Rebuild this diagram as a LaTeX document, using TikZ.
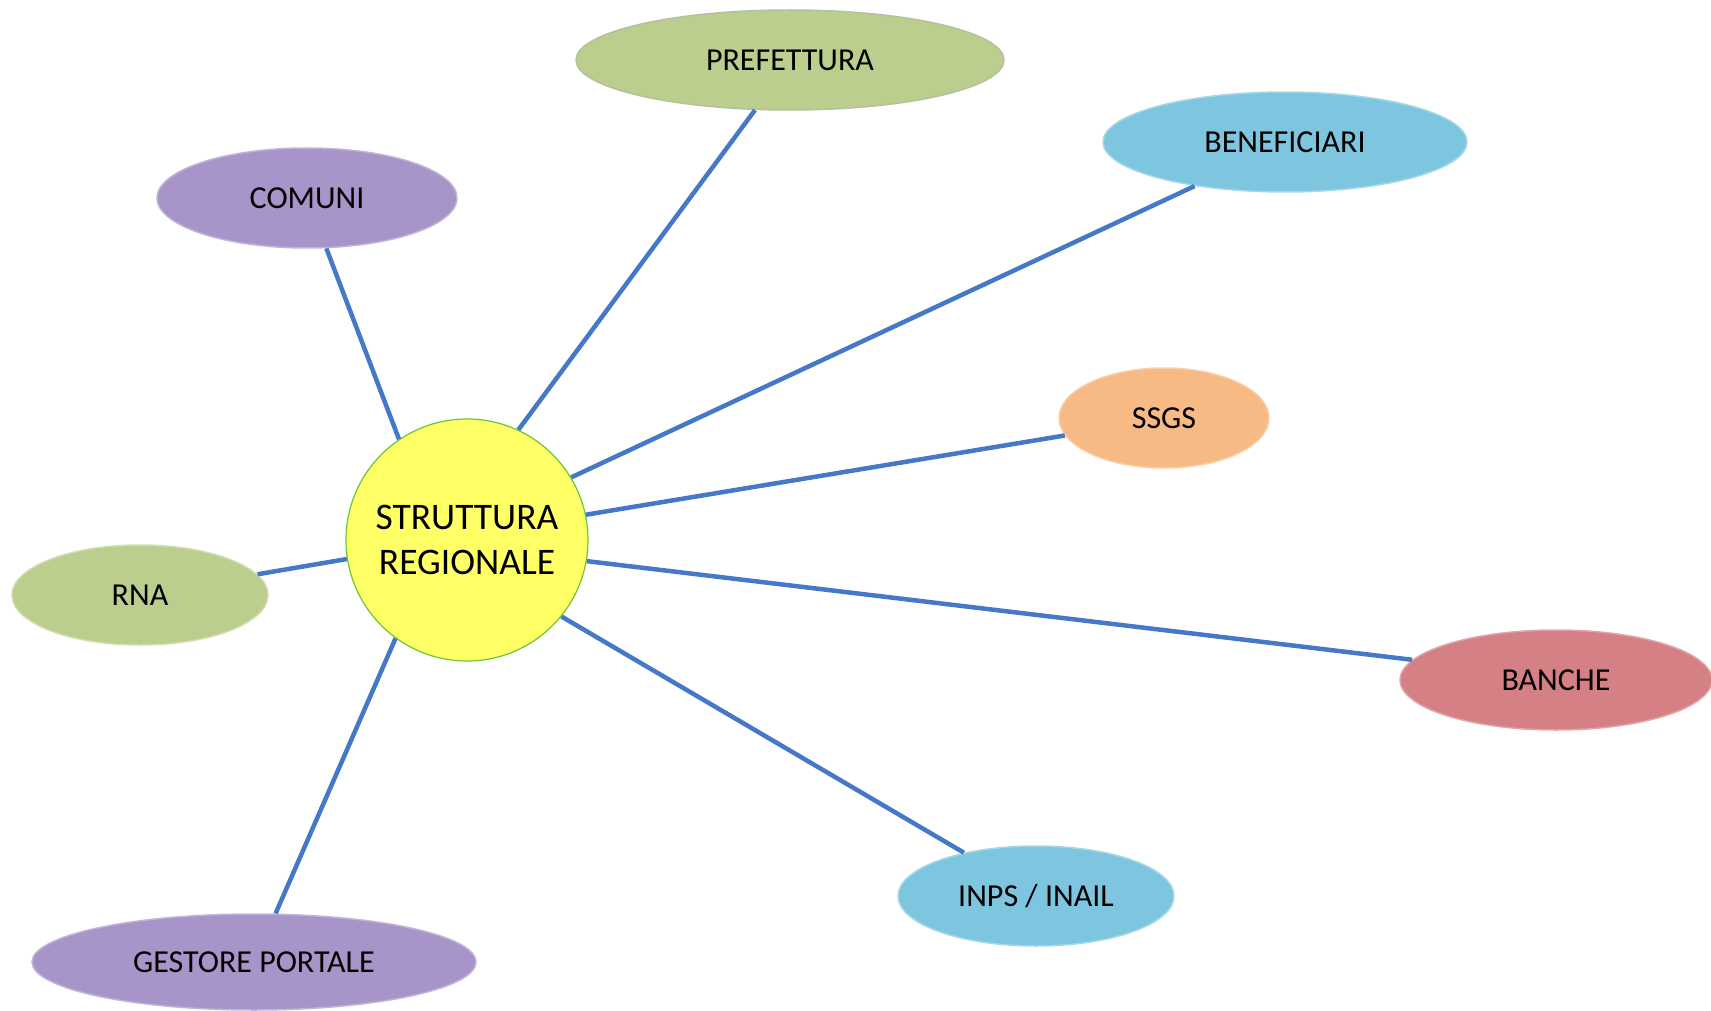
\documentclass[tikz,border=0pt]{standalone}
\usepackage{fontspec}
\setmainfont{Carlito}
\usetikzlibrary{shapes.geometric}
\definecolor{linkblue}{RGB}{70,120,200}
\definecolor{leafgreen}{RGB}{187,206,142}
\definecolor{leafpurple}{RGB}{167,148,200}
\definecolor{leafblue}{RGB}{126,198,224}
\definecolor{leaforange}{RGB}{247,186,132}
\definecolor{leafred}{RGB}{212,128,133}
\definecolor{hubyellow}{RGB}{255,255,102}
\begin{document}
\begin{tikzpicture}[x = 1pt, y = -1pt,
    leaf/.style = {ellipse, inner sep = 0pt, minimum height = 100pt,
      font = \fontsize{32}{36}\selectfont, line width = 1.5pt},
    hub/.style = {circle, minimum size = 242pt, inner sep = 0pt, fill = hubyellow,
      draw = green!45!olive!80, line width = 1.2pt, align = center,
      font = \fontsize{37.5}{45}\selectfont},
    link/.style = {linkblue, line width = 4.5pt}]
  \useasboundingbox (0, 0) rectangle (1711, 1011);
  \node[hub] (reg) at (467, 540) {STRUTTURA\\REGIONALE};
  \node[leaf, fill = leafgreen, draw = leafgreen!80!black!70!white, minimum width = 428pt] (pref) at (790, 60) {PREFETTURA};
  \node[leaf, fill = leafblue, draw = leafblue!70!white, minimum width = 364pt] (benef) at (1285, 142) {BENEFICIARI};
  \node[leaf, fill = leafpurple, draw = leafpurple!70!white, minimum width = 300pt] (comuni) at (307, 198) {COMUNI};
  \node[leaf, fill = leaforange, draw = leaforange!70!white, minimum width = 210pt] (ssgs) at (1164, 418) {SSGS};
  \node[leaf, fill = leafgreen, draw = leafgreen!70!white, minimum width = 256pt] (rna) at (140, 595) {RNA};
  \node[leaf, fill = leafred, draw = leafred!70!white, minimum width = 312pt] (banche) at (1556, 680) {BANCHE};
  \node[leaf, fill = leafblue, draw = leafblue!70!white, minimum width = 276pt] (inps) at (1036, 896) {INPS / INAIL};
  \node[leaf, fill = leafpurple, draw = leafpurple!70!white, minimum width = 444pt, minimum height = 96pt] (gestore) at (254, 962) {GESTORE PORTALE};
  % connectors from the hub
  \foreach \target/\from/\to in {comuni/124/-69, pref/65/-125, benef/31/-154, ssgs/12/190,
      rna/-171/10, banche/-10/172, inps/-39/149, gestore/-126/66}
    \draw[link] (reg.\from) -- (\target.\to);
\end{tikzpicture}
\end{document}
